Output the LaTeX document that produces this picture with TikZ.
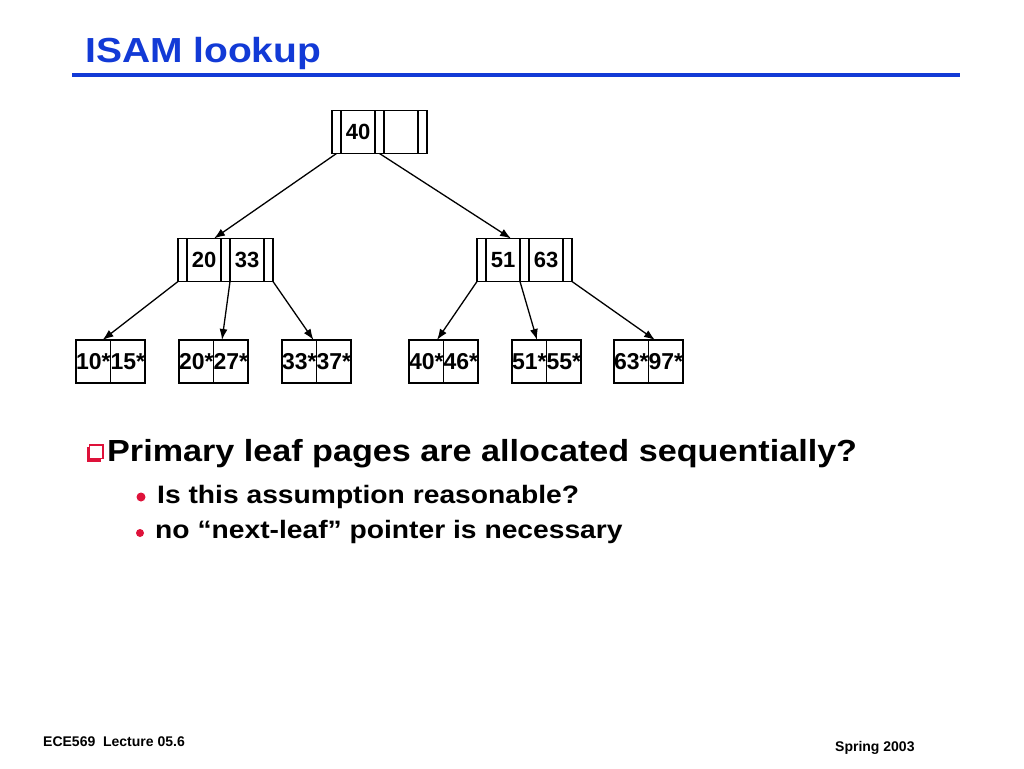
\documentclass[tikz,border=0pt]{standalone}
\usepackage{fontspec}
\setmainfont{Liberation Sans}
\newfontfamily\slidefont[FakeStretch=1.12]{Liberation Sans}
\usepackage{tikz}
\usetikzlibrary{arrows.meta,positioning}
\definecolor{titleblue}{RGB}{18,58,214}
\definecolor{bulletred}{RGB}{222,18,58}
\tikzset{
  >={Latex[length=11pt,width=8pt]},
  ptr/.style={draw, line width=1.2pt, rectangle, minimum height=43pt, minimum width=9pt, inner sep=0pt, outer sep=0pt},
  key/.style={ptr, minimum width=34pt, font=\fontsize{22}{22}\selectfont\bfseries},
  leaf/.style={ptr, minimum width=34.5pt, font=\fontsize{23}{23}\selectfont\bfseries},
  conn/.style={->, line width=1.3pt},
  slidetext/.style={anchor=base west, inner sep=0pt, font=\slidefont\fontsize{#1}{#1}\selectfont\bfseries},
  foottext/.style={anchor=base west, inner sep=0pt, font=\fontsize{14}{14}\selectfont\bfseries},
}

\begin{document}
\begin{tikzpicture}[x=1pt, y=-1pt, node distance=0pt]
  \useasboundingbox (0,0) rectangle (1024,768);
  % title
  \node[slidetext=34.8, text=titleblue] (title) at (85,63) {ISAM lookup};
  \draw[titleblue, line width=3.5pt] (72,75) -- (960,75);

  % root page
  \node[ptr, anchor=west] (r0) at (332,132) {};
  \node[key, right=of r0] (r1) {40};
  \node[ptr, right=of r1] (r2) {};
  \node[key, right=of r2] (r3) {};
  \node[ptr, right=of r3] (r4) {};

  % index pages
  \node[ptr, anchor=west] (a0) at (178,260) {};
  \node[key, right=of a0] (a1) {20};
  \node[ptr, right=of a1] (a2) {};
  \node[key, right=of a2] (a3) {33};
  \node[ptr, right=of a3] (a4) {};

  \node[ptr, anchor=west] (b0) at (477,260) {};
  \node[key, right=of b0] (b1) {51};
  \node[ptr, right=of b1] (b2) {};
  \node[key, right=of b2] (b3) {63};
  \node[ptr, right=of b3] (b4) {};

  % primary leaf pages
  \node[leaf, anchor=west] (l1a) at (76,361.5) {10*};
  \node[leaf, right=of l1a] (l1b) {15*};
  \node[leaf, anchor=west] (l2a) at (179,361.5) {20*};
  \node[leaf, right=of l2a] (l2b) {27*};
  \node[leaf, anchor=west] (l3a) at (282,361.5) {33*};
  \node[leaf, right=of l3a] (l3b) {37*};
  \node[leaf, anchor=west] (l4a) at (409,361.5) {40*};
  \node[leaf, right=of l4a] (l4b) {46*};
  \node[leaf, anchor=west] (l5a) at (512,361.5) {51*};
  \node[leaf, right=of l5a] (l5b) {55*};
  \node[leaf, anchor=west] (l6a) at (614,361.5) {63*};
  \node[leaf, right=of l6a] (l6b) {97*};

  % pointers
  \draw[conn] (r0.south) -- ([xshift=-7pt]a1.north east);
  \draw[conn] (r2.south) -- ([xshift=-9pt]b1.north east);
  \draw[conn] (a0.south west) -- ([xshift=-8pt]l1a.north east);
  \draw[conn] (a2.south east) -- ([xshift=8.5pt]l2b.north west);
  \draw[conn] (a4.south east) -- ([xshift=-3pt]l3a.north east);
  \draw[conn] (b0.south west) -- ([xshift=-6.5pt]l4a.north east);
  \draw[conn] (b2.south west) -- ([xshift=-9.5pt]l5a.north east);
  \draw[conn] (b4.south east) -- ([xshift=6.5pt]l6b.north west);

  % bullets
  \fill[bulletred] (87,447) rectangle (101,462);
  \draw[bulletred, fill=white, line width=1.2pt] (89.5,445) rectangle (103,458.5);
  \node[slidetext=30.5] (q) at (107,461) {Primary leaf pages are allocated sequentially?};
  \fill[bulletred] (141,497) circle (4.5pt);
  \node[slidetext=25.2] (s1) at (157,503) {Is this assumption reasonable?};
  \fill[bulletred] (140,533) circle (4pt);
  \node[slidetext=25.2] (s2) at (155,538) {no “next-leaf” pointer is necessary};

  % footer
  \node[foottext] (foot) at (43,746) {ECE569\ \ Lecture 05.6};
  \node[foottext] (date) at (835,751) {Spring 2003};
\end{tikzpicture}
\end{document}
